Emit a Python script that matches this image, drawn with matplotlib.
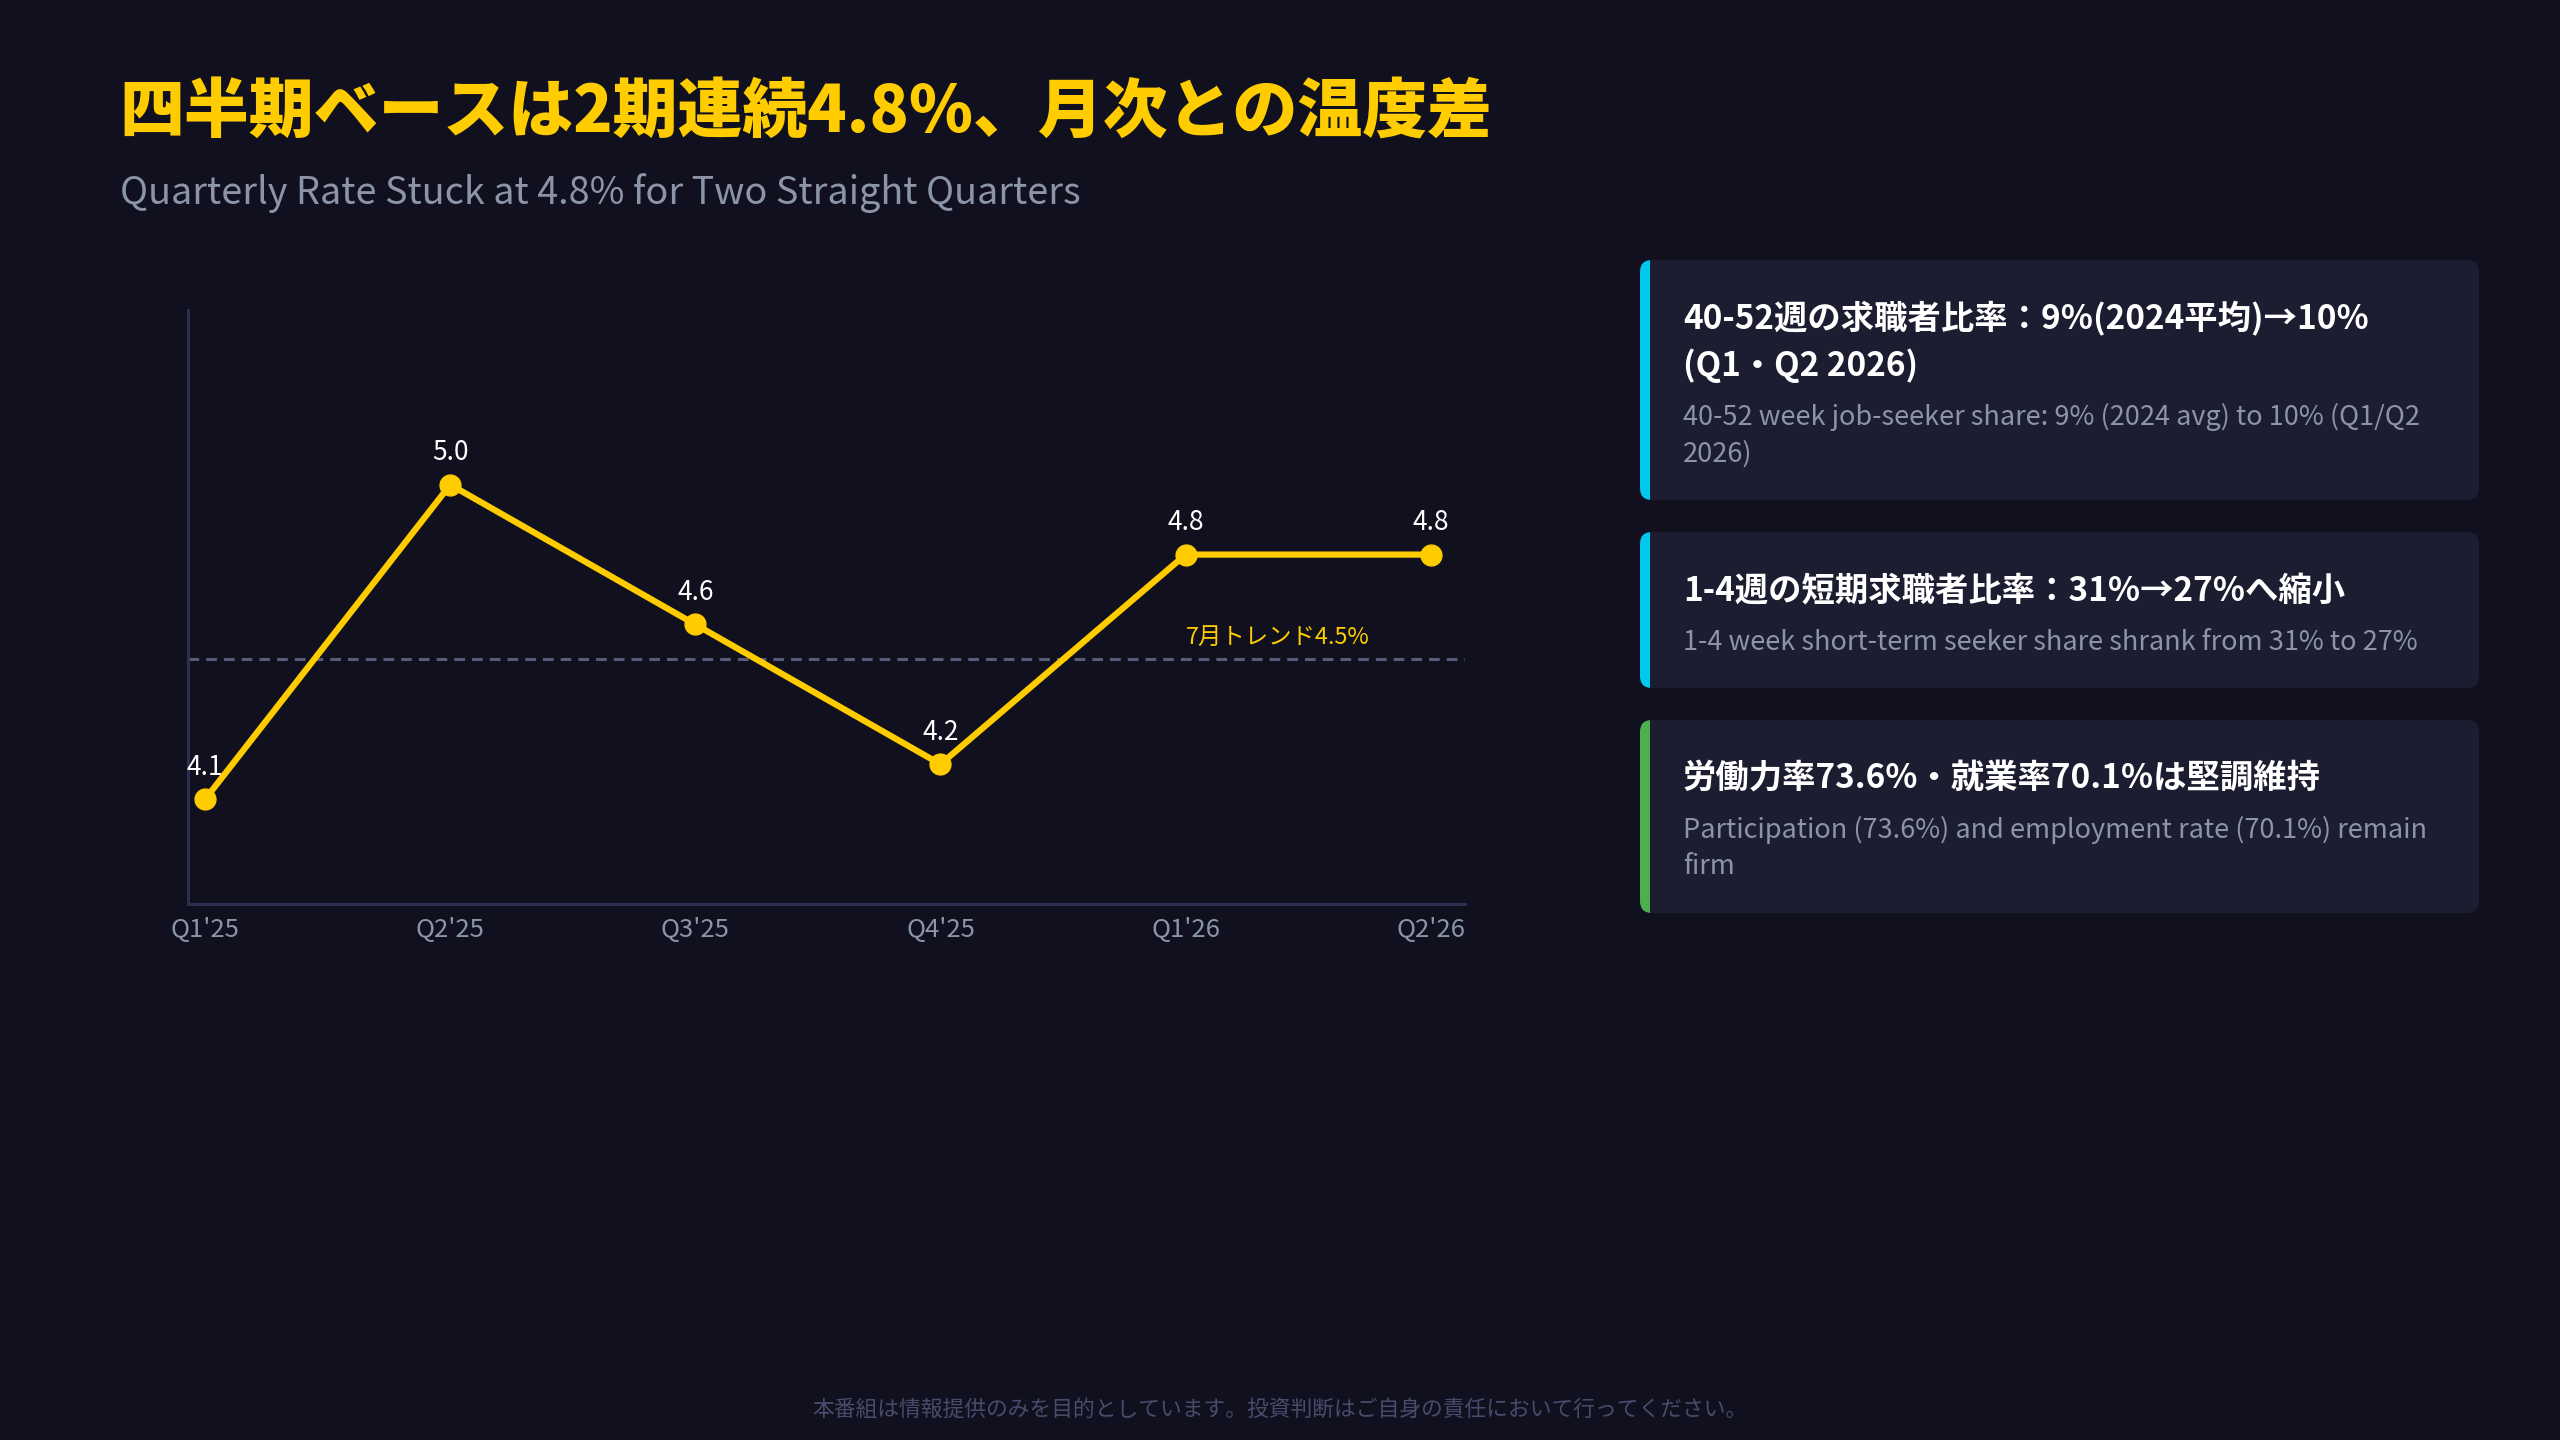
import matplotlib
matplotlib.use("Agg")
import matplotlib.pyplot as plt
from matplotlib.patches import FancyBboxPatch, Rectangle

# ---------------- data ----------------
quarters = ["Q1'25", "Q2'25", "Q3'25", "Q4'25", "Q1'26", "Q2'26"]
rates = [4.1, 5.0, 4.6, 4.2, 4.8, 4.8]
trend_value = 4.5
trend_label = "7月トレンド4.5%"

title = "四半期ベースは2期連続4.8%、月次との温度差"
subtitle = "Quarterly Rate Stuck at 4.8% for Two Straight Quarters"

card_titles = [
    "40-52週の求職者比率：9%(2024平均)→10%\n(Q1・Q2 2026)",
    "1-4週の短期求職者比率：31%→27%へ縮小",
    "労働力率73.6%・就業率70.1%は堅調維持",
]
card_notes = [
    "40-52 week job-seeker share: 9% (2024 avg) to 10% (Q1/Q2\n2026)",
    "1-4 week short-term seeker share shrank from 31% to 27%",
    "Participation (73.6%) and employment rate (70.1%) remain\nfirm",
]
card_accents = ["#00C8F0", "#00C8F0", "#4CAF50"]

footer = "本番組は情報提供のみを目的としています。投資判断はご自身の責任において行ってください。"

# ---------------- style ----------------
BG = "#10101f"
CARD = "#1c1d30"
GOLD = "#FFCC00"
AXIS = "#2e2e50"
DASH = "#5a5a7a"
TICK = "#8a96a8"
SUB = "#8b95a7"
FOOT = "#4a4a6c"
FONT = ["Noto Sans CJK JP", "DejaVu Sans"]
plt.rcParams["font.family"] = FONT

W, H = 2560, 1440
fig = plt.figure(figsize=(W / 100, H / 100), dpi=100, facecolor=BG)

# background / overlay axes in pixel coordinates
bg = fig.add_axes([0, 0, 1, 1], zorder=0)
bg.set_xlim(0, W)
bg.set_ylim(H, 0)
bg.axis("off")
bg.set_facecolor(BG)

bg.text(119, 113, title, color=GOLD, fontsize=46.7, fontweight="black",
        ha="left", va="center")
bg.text(120, 193, subtitle, color=SUB, fontsize=27.2, ha="left", va="center")

# ---------------- chart ----------------
ax_l, ax_r, ax_t, ax_b = 188, 1465, 310, 904
ax = fig.add_axes([ax_l / W, 1 - ax_b / H, (ax_r - ax_l) / W, (ax_b - ax_t) / H], zorder=1)
ax.patch.set_alpha(0)
x = list(range(len(quarters)))
ax.set_xlim(-0.07, 5.14)
ax.set_ylim(3.8, 5.5)

ax.axhline(trend_value, color=DASH, lw=2.2, dashes=(3.5, 2.3), zorder=1)
ax.plot(x, rates, color=GOLD, lw=4.5, marker="o", ms=15, zorder=3, clip_on=False)
for xi, v in zip(x, rates):
    ax.annotate(f"{v:.1f}", (xi, v), xytext=(0, 23), textcoords="offset points",
                ha="center", va="center", color="white", fontsize=19)
ax.annotate(trend_label, (4, trend_value), xytext=(0, 16), textcoords="offset points",
            ha="left", va="center", color=GOLD, fontsize=16.8)

ax.set_xticks(x)
ax.set_xticklabels(quarters)
ax.set_yticks([])
ax.tick_params(axis="x", length=0, pad=9.5, labelsize=18.5, labelcolor=TICK)
for s in ["top", "right"]:
    ax.spines[s].set_visible(False)
for s in ["left", "bottom"]:
    ax.spines[s].set_color(AXIS)
    ax.spines[s].set_linewidth(2.2)

# ---------------- cards ----------------
cx0, cx1 = 1640, 2479
top = 260
title_step, note_step = 47, 37
for ttl, note, acc in zip(card_titles, card_notes, card_accents):
    tl = ttl.split("\n")
    nl = note.split("\n")
    bottom = top + 56 + (len(tl) - 1) * title_step + 52 + (len(nl) - 1) * note_step + 48
    card = FancyBboxPatch((cx0, top), cx1 - cx0, bottom - top,
                          boxstyle="round,pad=0,rounding_size=12",
                          fc=CARD, ec="none", zorder=1)
    bg.add_patch(card)
    bar = Rectangle((cx0, top), 10, bottom - top, fc=acc, ec="none", zorder=2)
    bar.set_clip_path(card)
    bg.add_patch(bar)
    y = top + 59
    for line in tl:
        bg.text(1683, y, line, color="white", fontsize=24, fontweight="bold",
                ha="left", va="center", zorder=3)
        y += title_step
    y += 51 - title_step
    for line in nl:
        bg.text(1683, y, line, color=SUB, fontsize=19.5, ha="left", va="center", zorder=3)
        y += note_step
    top = bottom + 32

bg.text(W / 2, 1410, footer, color=FOOT, fontsize=15.7, ha="center", va="center")

fig.savefig("out.png", dpi=100, facecolor=BG)
